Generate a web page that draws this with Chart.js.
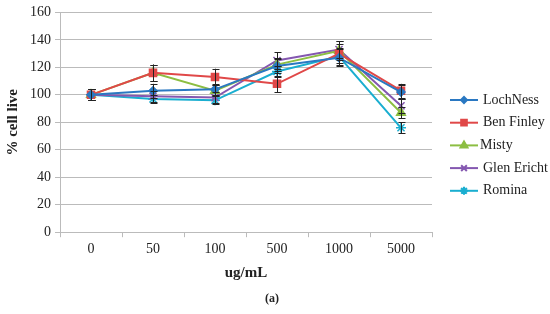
<!DOCTYPE html>
<html><head><meta charset="utf-8">
<script src="https://cdn.jsdelivr.net/npm/chart.js@4"></script>
<style>html,body{margin:0;padding:0;background:#fff}#wrap{width:550px;height:314px}</style>
</head><body><div id="wrap"><canvas id="c" width="550" height="314"></canvas></div>
<script>
const categories = ['0','50','100','500','1000','5000'];
const seriesNames = ['LochNess','Ben Finley','Misty','Glen Ericht','Romina'];
const lochNess   = [100, 103, 104, 121, 127, 102];
const benFinley  = [100, 116, 113, 108, 130, 103];
const misty      = [100, 116, 103, 122, 132, 87];
const glenEricht = [100, 99, 98, 125, 133, 92];
const romina     = [100, 97, 96, 117, 128, 76];
const errLochNess   = [4, 5, 4, 5, 6, 5];
const errBenFinley  = [4, 6, 6, 6, 7, 5];
const errMisty      = [4, 6, 4, 5, 7, 4];
const errGlenEricht = [4, 4, 4, 6, 6, 5];
const errRomina     = [4, 3, 3, 4, 6, 4];
const yTicks = [0,20,40,60,80,100,120,140,160];

const colors = ['#2a78c2','#e04848','#8cbe42','#8457b0','#1aaed0'];
const styles = ['rectRot','rect','triangle','crossRot','star'];
const radii = [4,5,5,5,5];
const values = [lochNess, benFinley, misty, glenEricht, romina];
const errs = [errLochNess, errBenFinley, errMisty, errGlenEricht, errRomina];
const serif = "'Liberation Serif','Times New Roman',serif";

const errorBars = {
  id:'errorBars',
  afterDatasetsDraw(chart){
    const ctx = chart.ctx, ys = chart.scales.y;
    ctx.save();
    ctx.strokeStyle = '#222'; ctx.lineWidth = 1;
    chart.data.datasets.forEach((ds, di) => {
      const meta = chart.getDatasetMeta(di);
      meta.data.forEach((pt, i) => {
        const e = ds.err[i], v = ds.data[i];
        const y1 = ys.getPixelForValue(v + e), y2 = ys.getPixelForValue(v - e);
        const x = Math.round(pt.x) + 0.5;
        ctx.beginPath();
        ctx.moveTo(x, y1); ctx.lineTo(x, y2);
        ctx.moveTo(x-3, Math.round(y1)+0.5); ctx.lineTo(x+4, Math.round(y1)+0.5);
        ctx.moveTo(x-3, Math.round(y2)+0.5); ctx.lineTo(x+4, Math.round(y2)+0.5);
        ctx.stroke();
      });
    });
    ctx.restore();
  }
};

const customLegend = {
  id:'customLegend',
  afterDraw(chart){
    const ctx = chart.ctx;
    ctx.save();
    chart.data.datasets.forEach((ds, i) => {
      const y = 100 + i*22.7;
      ctx.strokeStyle = ds.borderColor; ctx.lineWidth = 2;
      ctx.beginPath(); ctx.moveTo(450, y); ctx.lineTo(478, y); ctx.stroke();
      ctx.fillStyle = ds.borderColor; ctx.strokeStyle = ds.borderColor;
      Chart.helpers.drawPoint(ctx, {pointStyle: ds.pointStyle, radius: ds.pointRadius-1, rotation:0, borderWidth: 1.5}, 464, y);
      ctx.fillStyle = '#222';
      ctx.font = "14px " + serif;
      ctx.textBaseline = 'middle'; ctx.textAlign = 'left';
      ctx.fillText(ds.label, i === 2 ? 480 : 483, y);
    });
    ctx.fillStyle = '#222';
    ctx.font = "bold 12px " + serif;
    ctx.textAlign = 'center'; ctx.textBaseline = 'middle';
    ctx.fillText('(a)', 272, 299);
    ctx.restore();
  }
};

new Chart(document.getElementById('c'), {
  type:'line',
  data:{
    labels: categories,
    datasets: seriesNames.map((n, i) => ({
      label: n, data: values[i], err: errs[i],
      borderColor: colors[i], backgroundColor: colors[i],
      pointBackgroundColor: colors[i], pointBorderColor: colors[i],
      pointStyle: styles[i], pointRadius: radii[i], pointBorderWidth: 1.5,
      borderWidth: 2, tension: 0
    }))
  },
  options:{
    responsive:false, animation:false,
    layout:{padding:{left:4, right:118, top:5, bottom:32}},
    plugins:{ legend:{display:false}, tooltip:{enabled:false} },
    scales:{
      x:{
        offset:true,
        grid:{offset:true, drawOnChartArea:false, drawTicks:true, tickLength:5, color:'#bbb'},
        border:{color:'#bbb'},
        ticks:{color:'#222', font:{family:serif, size:14}, padding:4},
        title:{display:true, text:'ug/mL', color:'#222', font:{family:serif, size:15, weight:'bold'}, padding:{top:2,bottom:0}}
      },
      y:{
        min:0, max:160,
        afterBuildTicks(s){ s.ticks = yTicks.map(v => ({value:v})); },
        afterFit(s){ s.width = 56; },
        grid:{color:'#bbb', tickLength:5},
        border:{color:'#bbb'},
        ticks:{color:'#222', font:{family:serif, size:14}, padding:4},
        title:{display:true, text:'% cell live', color:'#222', font:{family:serif, size:15, weight:'bold'}, padding:{top:0,bottom:2}}
      }
    }
  },
  plugins:[errorBars, customLegend]
});
</script></body></html>
